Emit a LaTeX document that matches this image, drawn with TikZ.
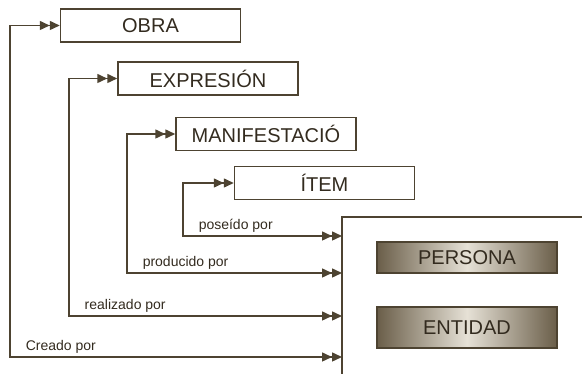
\documentclass[tikz,border=0pt]{standalone}
\usepackage{fontspec}
\setmainfont{Liberation Sans}
\usetikzlibrary{arrows.meta}
\definecolor{cafe}{HTML}{4D4331}
\definecolor{letra}{HTML}{332B1F}
\definecolor{sombra}{HTML}{6A5E49}
\definecolor{brillo}{HTML}{E6E1D6}
\tikzset{
  caja/.style={draw=cafe,line width=1.5pt,fill=white,minimum width=180pt,minimum height=33pt,inner sep=0pt,text=letra,font=\fontsize{20}{20}\selectfont},
  agente/.style={draw=cafe,line width=2pt,left color=sombra,right color=sombra,middle color=brillo,minimum width=180pt,inner sep=0pt,text=letra,font=\fontsize{20}{20}\selectfont},
  rel/.style={draw=cafe,line width=1.5pt,{Triangle[length=10pt,width=9pt]Triangle[length=10pt,width=9pt]}-{Triangle[length=10pt,width=9pt]Triangle[length=10pt,width=9pt]}},
  etiqueta/.style={text=letra,font=\fontsize{14}{14}\selectfont,anchor=base west,inner sep=0pt}
}
\begin{document}
\begin{tikzpicture}[x=1pt,y=-1pt]
  \useasboundingbox (0,0) rectangle (582,374);
  \coordinate (marco) at (342,217);
  \draw[cafe,line width=1.5pt] (marco) ++(240,0) -- (marco) -- ++(0,157);
  \node[agente,minimum height=31pt] (persona) at (467,257.5) {PERSONA};
  \node[agente,minimum height=41pt] (entidad) at (467,327.5) {ENTIDAD};
  \foreach \nm/\txt/\bx/\by/\vx/\hy/\lbl in {obra/OBRA/150.5/25.5/10/357/Creado por,
      expresion/EXPRESIÓN/208/78.5/69/316/realizado por,
      manifestacion/MANIFESTACIÓ/266/134/127/273/producido por,
      item/ÍTEM/324.5/183/183/236/poseído por}{
    \node[caja] (\nm) at (\bx,\by) {\txt};
    \coordinate (v\nm) at (\vx,\hy);
    \draw[rel] (\nm.west) -| (v\nm) -- (v\nm -| marco)
      node[etiqueta,pos=0,xshift=15pt,yshift=6pt] {\lbl};
  }
\end{tikzpicture}
\end{document}
